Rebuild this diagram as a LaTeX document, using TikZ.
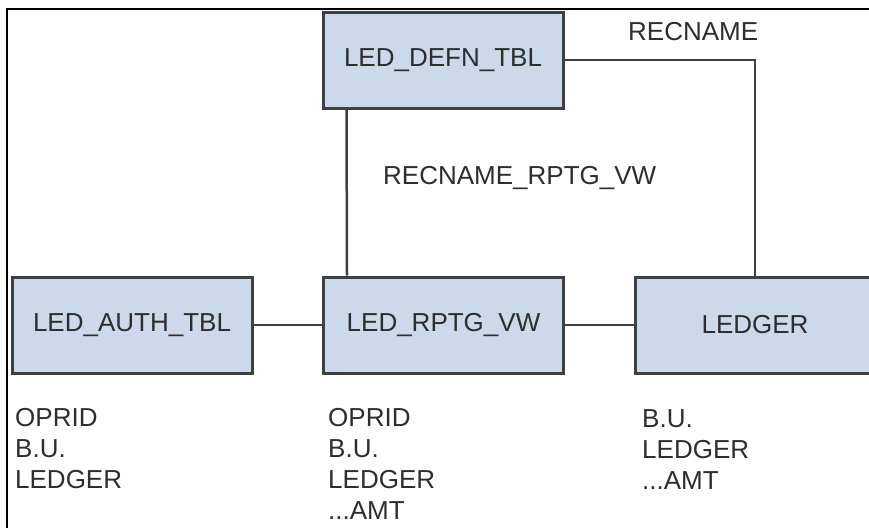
\documentclass[tikz,border=0pt]{standalone}
\usepackage{fontspec}
\setmainfont{Liberation Sans}
\definecolor{boxfill}{RGB}{204,217,234}
\definecolor{boxline}{RGB}{64,64,64}
\definecolor{txt}{RGB}{45,45,45}
\begin{document}
\begin{tikzpicture}[x=1pt,y=-1pt,
  tbl/.style={draw=boxline,line width=3pt,fill=boxfill,minimum width=240pt,minimum height=96pt,inner sep=0pt,text=txt,font=\fontsize{26}{31}\selectfont},
  lbl/.style={inner sep=0pt,text=txt,font=\fontsize{26}{31}\selectfont},
  fields/.style={inner sep=0pt,text=txt,align=left,anchor=north west,font=\fontsize{26}{31}\selectfont},
  conn/.style={draw=boxline,line width=2.5pt}]
\useasboundingbox (0,0) rectangle (869,528);
\clip (0,0) rectangle (869,528);
% frame
\coordinate (ftl) at (7,9);
\coordinate (ftr) at (869,9);
\coordinate (fbl) at (7,528);
\draw[line width=2pt,black] (ftr) -- (ftl) -- (fbl);
% tables
\node[tbl] (defn) at (443,60) {LED\_DEFN\_TBL};
\node[tbl] (auth) at (132,325) {LED\_AUTH\_TBL};
\node[tbl] (rptg) at (443.5,325) {LED\_RPTG\_VW};
\node[tbl] (ledger) at (755,325) {LEDGER};
% connectors
\draw[conn] (defn.east) -| (ledger.north);
\draw[conn] ([xshift=25pt]defn.south west) -- ([xshift=25pt]rptg.north west);
\draw[conn] (auth.east) -- (rptg.west);
\draw[conn] (rptg.east) -- (ledger.west);
% labels
\node[lbl,anchor=west] (recname) at (628,32) {RECNAME};
\node[lbl,anchor=west] (recrptg) at (383,178) {RECNAME\_RPTG\_VW};
% field lists
\node[fields] (authf) at (15,408) {OPRID\\B.U.\\LEDGER};
\node[fields] (rptgf) at (328,408) {OPRID\\B.U.\\LEDGER\\...AMT};
\node[fields] (ledgf) at (642,409) {B.U.\\LEDGER\\...AMT};
\end{tikzpicture}
\end{document}
